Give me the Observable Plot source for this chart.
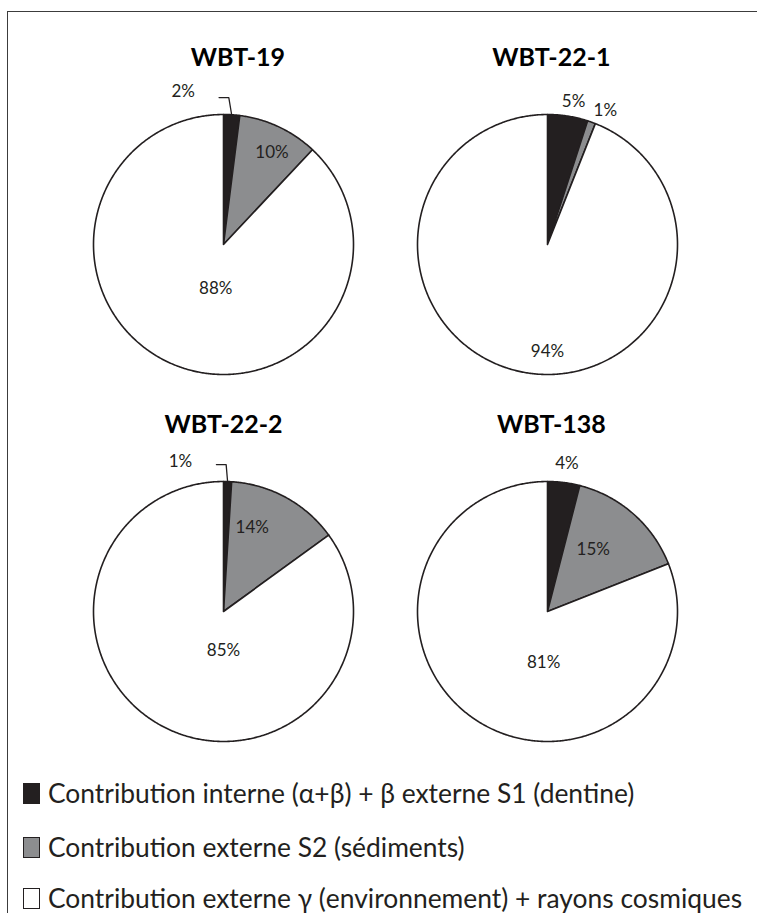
<!DOCTYPE html>
<html>
<head>
<meta charset="utf-8">
<script src="https://cdn.jsdelivr.net/npm/d3@7"></script>
<script src="https://cdn.jsdelivr.net/npm/@observablehq/plot@0.6"></script>
<style>
  html, body { margin: 0; padding: 0; background: #fff; }
  #wrap { position: relative; width: 757px; height: 913px; overflow: hidden; font-family: Lato, "Open Sans", sans-serif; color: #231f20; }
  #frame { position: absolute; left: 7px; top: 11px; width: 900px; height: 1000px; border-left: 1.5px solid #3c3c3c; border-top: 1.5px solid #3c3c3c; }
  #chart { position: absolute; left: 0; top: 0; }
  .leg { position: absolute; left: 23px; display: flex; align-items: center; font-size: 26.4px; white-space: nowrap; line-height: 1; }
  .sw { width: 15px; height: 19px; border: 1.5px solid #231f20; margin-right: 8px; box-sizing: content-box; flex: none; }
</style>
</head>
<body>
<div id="wrap">
  <div id="frame"></div>
  <div id="chart"></div>
  <div id="legend"></div>
</div>
<script>
// ---- data ----
const samples = ["WBT-19", "WBT-22-1", "WBT-22-2", "WBT-138"];
const components = [
  "Contribution interne (\u03B1+\u03B2) + \u03B2 externe S1 (dentine)",
  "Contribution externe S2 (s\u00E9diments)",
  "Contribution externe \u03B3 (environnement) + rayons cosmiques"
];
const internalS1 = [2, 5, 1, 4];     // %
const externalS2 = [10, 1, 14, 15];  // %
const gammaCosmic = [88, 94, 85, 81]; // %

// ---- styles / layout ----
const sliceColors = ["#231f20", "#8c8d8f", "#ffffff"];
const edge = "#231f20";
// label placement per sample & slice: [angle (deg, clockwise from top), radius (in pie radii)]
const labelPolar = [
  [[-14.7, 1.22], [27.8, 0.80], [190, 0.345]],
  [[10.3, 1.12], [23.4, 1.12], [180, 0.82]],
  [[-16, 1.20], [19, 0.68], [180, 0.30]],
  [[7.5, 1.15], [36.6, 0.59], [184.4, 0.39]]
];
const leaderFor = [[true, false, false], [false, false, false], [true, false, false], [false, false, false]];
const titleShift = [0.11, 0.03, 0.0, 0.03]; // title horizontal offset (pie radii)

const R = 130; // pie radius in px
const half = 150 / R; // half facet size in pie radii

const series = [internalS1, externalS2, gammaCosmic];
const slicePts = [];
const labels = [];
const leaders = [];
const titles = [];
samples.forEach((s, i) => {
  const col = i % 2, row = Math.floor(i / 2);
  const vals = series.map(a => a[i]);
  const total = d3.sum(vals);
  let cum = 0;
  titles.push({col, row, text: s, x: titleShift[i]});
  vals.forEach((v, k) => {
    const a0 = cum / total * 2 * Math.PI;
    cum += v;
    const a1 = cum / total * 2 * Math.PI;
    const key = s + "-" + k;
    const n = Math.max(2, Math.ceil((a1 - a0) / (Math.PI / 360)));
    slicePts.push({key, col, row, x: 0, y: 0, c: sliceColors[k]});
    for (let j = 0; j <= n; j++) {
      const a = a0 + (a1 - a0) * j / n;
      slicePts.push({key, col, row, x: Math.sin(a), y: Math.cos(a), c: sliceColors[k]});
    }
    slicePts.push({key, col, row, x: 0, y: 0, c: sliceColors[k]});
    const [ang, r] = labelPolar[i][k];
    const la = ang * Math.PI / 180;
    labels.push({col, row, x: r * Math.sin(la), y: r * Math.cos(la), text: v + "%"});
    if (leaderFor[i][k]) {
      const am = (a0 + a1) / 2;
      const ex = Math.sin(am) * 0.65, ey = 1.13;
      leaders.push({key, col, row, x: Math.sin(am), y: Math.cos(am)});
      leaders.push({key, col, row, x: ex, y: ey});
      leaders.push({key, col, row, x: ex - 0.075, y: ey});
    }
  });
});

const chart = Plot.plot({
  width: 757,
  height: 780,
  marginLeft: 73,
  marginRight: 60,
  marginTop: 93.5,
  marginBottom: 19,
  fx: {domain: [0, 1], paddingInner: 24 / 324, paddingOuter: 0, axis: null},
  fy: {domain: [0, 1], paddingInner: 67.5 / 367.5, paddingOuter: 0, axis: null},
  x: {domain: [-half, half], axis: null},
  y: {domain: [-half, half], axis: null},
  color: {type: "identity"},
  style: {fontFamily: "Lato, 'Open Sans', sans-serif", color: "#231f20", background: "transparent"},
  marks: [
    Plot.line(slicePts, {x: "x", y: "y", z: "key", fx: "col", fy: "row", fill: "c", stroke: edge, strokeWidth: 1.6, strokeLinejoin: "round"}),
    Plot.line(leaders, {x: "x", y: "y", z: "key", fx: "col", fy: "row", stroke: edge, strokeWidth: 1.3}),
    Plot.text(labels, {x: "x", y: "y", fx: "col", fy: "row", text: "text", fontSize: 17, fill: "#231f20"}),
    Plot.text(titles, {x: "x", fx: "col", fy: "row", text: "text", frameAnchor: "top", dy: -46, fontSize: 25, fontWeight: "bold", fill: "#000"})
  ]
});
document.getElementById("chart").appendChild(chart);

const legendCenters = [793, 847, 898];
const legend = document.getElementById("legend");
components.forEach((c, k) => {
  const row = document.createElement("div");
  row.className = "leg";
  row.style.top = (legendCenters[k] - 15) + "px";
  row.style.height = "30px";
  const sw = document.createElement("div");
  sw.className = "sw";
  sw.style.background = sliceColors[k];
  const t = document.createElement("span");
  t.textContent = c;
  row.appendChild(sw);
  row.appendChild(t);
  legend.appendChild(row);
});
</script>
</body>
</html>
